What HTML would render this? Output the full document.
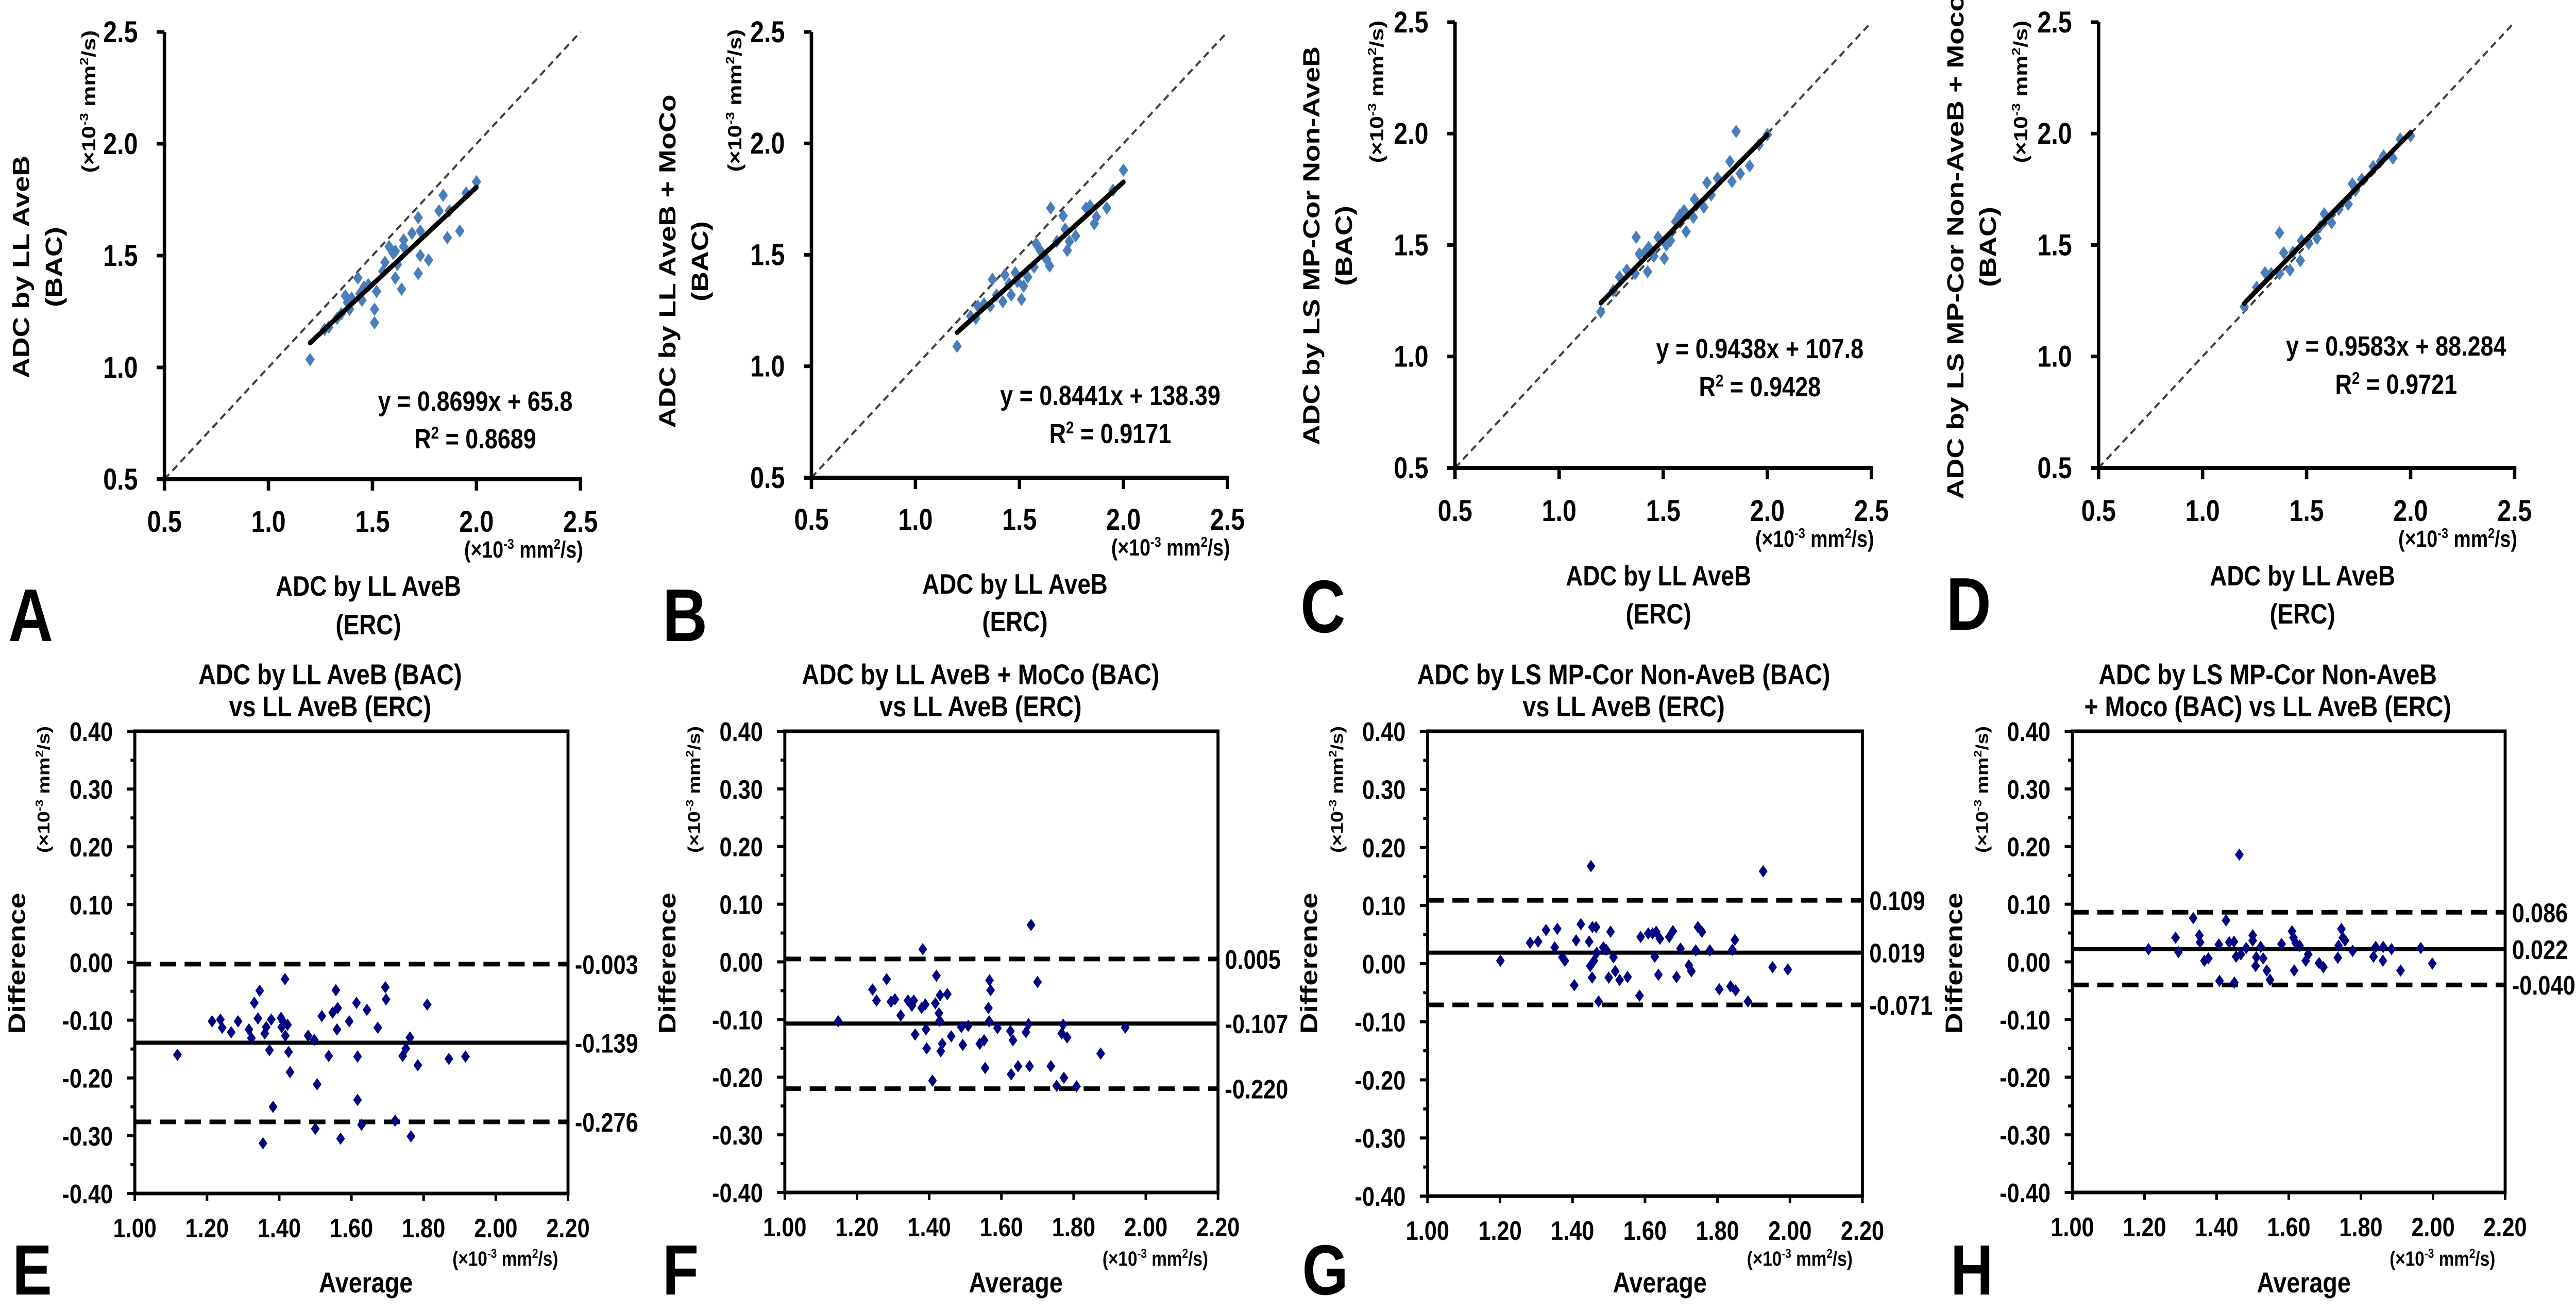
<!DOCTYPE html>
<html><head><meta charset="utf-8">
<style>
html,body{margin:0;padding:0;background:#fff;overflow:hidden;}
svg{display:block;width:100vw;height:100vh;}
</style></head>
<body>
<svg id="fig" xmlns="http://www.w3.org/2000/svg" viewBox="0 0 6000 2544" preserveAspectRatio="none">
<rect width="6000" height="2544" fill="#fff"/>
</svg>
<script>
// ---------- Scatter data (x10^-3 mm2/s) ----------
const scatterAX=[1.20,1.27,1.29,1.33,1.35,1.37,1.38,1.39,1.40,1.43,1.44,1.45,1.46,1.48,1.51,1.51,1.52,1.55,1.56,1.58,1.60,1.61,1.61,1.62,1.64,1.65,1.65,1.69,1.72,1.72,1.73,1.73,1.77,1.82,1.84,1.86,1.87,1.92,1.95,2.00];
const scatterAY=[1.035,1.17,1.18,1.22,1.24,1.32,1.29,1.26,1.31,1.40,1.33,1.30,1.36,1.37,1.26,1.20,1.34,1.43,1.47,1.54,1.51,1.52,1.40,1.46,1.35,1.57,1.54,1.60,1.67,1.42,1.61,1.50,1.48,1.70,1.77,1.58,1.70,1.61,1.78,1.83];
const fitA=[0.8699,0.0658];
const r2A=["y = 0.8699x + 65.8","0.8689"];

const scatterBX=[1.20,1.265,1.29,1.30,1.33,1.36,1.37,1.39,1.42,1.43,1.45,1.46,1.48,1.49,1.51,1.52,1.54,1.57,1.58,1.60,1.63,1.645,1.65,1.68,1.71,1.72,1.73,1.74,1.77,1.82,1.84,1.86,1.87,1.92,1.95,2.00];
const scatterBY=[1.09,1.225,1.215,1.27,1.28,1.27,1.39,1.32,1.29,1.41,1.37,1.32,1.42,1.38,1.30,1.36,1.40,1.445,1.55,1.52,1.48,1.45,1.71,1.56,1.675,1.615,1.52,1.56,1.585,1.71,1.72,1.64,1.67,1.71,1.79,1.88];
const fitB=[0.8441,0.13839];
const r2B=["y = 0.8441x + 138.39","0.9171"];

const scatterCX=[1.20,1.26,1.29,1.325,1.365,1.37,1.385,1.41,1.425,1.43,1.455,1.475,1.505,1.515,1.535,1.56,1.58,1.60,1.61,1.645,1.65,1.695,1.71,1.73,1.76,1.82,1.83,1.85,1.87,1.915,1.96,2.00];
const scatterCY=[1.20,1.295,1.357,1.388,1.372,1.535,1.46,1.465,1.38,1.49,1.45,1.535,1.44,1.50,1.52,1.605,1.635,1.655,1.56,1.625,1.705,1.67,1.78,1.725,1.80,1.875,1.785,2.01,1.82,1.855,1.95,1.995];
const fitC=[0.9438,0.1078];
const r2C=["y = 0.9438x + 107.8","0.9428"];

const scatterDX=[1.20,1.26,1.30,1.33,1.37,1.37,1.39,1.42,1.435,1.47,1.475,1.51,1.55,1.565,1.585,1.62,1.655,1.70,1.72,1.735,1.765,1.82,1.855,1.87,1.915,1.95,2.00];
const scatterDY=[1.223,1.31,1.376,1.372,1.555,1.372,1.465,1.388,1.468,1.43,1.52,1.507,1.53,1.583,1.64,1.60,1.66,1.683,1.775,1.745,1.795,1.852,1.875,1.90,1.89,1.976,1.99];
const fitD=[0.9583,0.088284];
const r2D=["y = 0.9583x + 88.284","0.9721"];

// ---------- Bland-Altman data ----------
const baEX=[1.118,1.214,1.237,1.242,1.267,1.286,1.316,1.323,1.331,1.341,1.346,1.36,1.364,1.373,1.378,1.383,1.355,1.405,1.407,1.412,1.416,1.417,1.423,1.426,1.43,1.48,1.497,1.5,1.505,1.518,1.537,1.548,1.557,1.562,1.56,1.57,1.594,1.614,1.617,1.617,1.628,1.643,1.673,1.694,1.696,1.721,1.742,1.751,1.762,1.765,1.784,1.81,1.87,1.916];
const baEY=[-0.160,-0.102,-0.099,-0.113,-0.121,-0.102,-0.116,-0.131,-0.070,-0.097,-0.049,-0.123,-0.112,-0.152,-0.099,-0.250,-0.313,-0.096,-0.112,-0.104,-0.029,-0.127,-0.108,-0.155,-0.190,-0.127,-0.134,-0.288,-0.211,-0.093,-0.162,-0.087,-0.048,-0.079,-0.116,-0.305,-0.102,-0.070,-0.238,-0.163,-0.281,-0.082,-0.113,-0.043,-0.064,-0.274,-0.162,-0.149,-0.130,-0.301,-0.178,-0.073,-0.167,-0.163];
const baELines=[-0.003,-0.139,-0.276];
const baELabels=["-0.003","-0.139","-0.276"];

const baFX=[1.148,1.243,1.254,1.282,1.294,1.305,1.321,1.341,1.352,1.357,1.361,1.379,1.382,1.389,1.391,1.393,1.409,1.417,1.42,1.427,1.429,1.43,1.432,1.436,1.45,1.461,1.493,1.489,1.508,1.54,1.552,1.555,1.564,1.567,1.57,1.566,1.589,1.625,1.627,1.632,1.646,1.668,1.675,1.678,1.682,1.7,1.737,1.753,1.767,1.771,1.773,1.782,1.808,1.875,1.943];
const baFY=[-0.103,-0.048,-0.067,-0.030,-0.069,-0.065,-0.093,-0.067,-0.076,-0.067,-0.126,-0.080,0.022,-0.074,-0.117,-0.150,-0.206,-0.072,-0.024,-0.089,-0.102,-0.058,-0.155,-0.142,-0.056,-0.129,-0.144,-0.113,-0.111,-0.142,-0.136,-0.184,-0.080,-0.032,-0.049,-0.103,-0.115,-0.120,-0.195,-0.136,-0.181,-0.122,-0.108,-0.181,0.064,-0.035,-0.181,-0.215,-0.124,-0.109,-0.201,-0.131,-0.216,-0.159,-0.114];
const baFLines=[0.005,-0.107,-0.220];
const baFLabels=["0.005","-0.107","-0.220"];

const baGX=[1.201,1.283,1.305,1.327,1.351,1.358,1.372,1.379,1.405,1.41,1.423,1.446,1.449,1.451,1.454,1.455,1.459,1.465,1.467,1.472,1.485,1.493,1.5,1.505,1.513,1.518,1.53,1.552,1.585,1.588,1.609,1.621,1.627,1.631,1.637,1.641,1.667,1.677,1.687,1.698,1.721,1.728,1.74,1.746,1.757,1.779,1.805,1.836,1.841,1.848,1.85,1.884,1.926,1.952,1.994];
const baGY=[0.005,0.036,0.038,0.058,0.028,0.060,0.011,0.005,-0.037,0.040,0.068,0.038,-0.004,0.168,-0.024,0.063,0.005,0.063,0.019,-0.065,0.028,0.024,-0.024,0.055,0.011,-0.013,-0.028,-0.023,-0.055,0.046,0.052,0.052,0.012,0.055,-0.019,0.043,0.046,0.056,-0.023,0.026,-0.003,-0.013,0.023,0.063,0.055,0.023,-0.044,-0.039,0.024,0.041,-0.046,-0.065,0.159,-0.006,-0.010];
const baGLines=[0.109,0.019,-0.071];
const baGLabels=["0.109","0.019","-0.071"];

const baHX=[1.211,1.286,1.294,1.335,1.352,1.354,1.366,1.377,1.406,1.408,1.426,1.435,1.448,1.449,1.454,1.463,1.467,1.482,1.5,1.5,1.508,1.51,1.522,1.529,1.539,1.548,1.58,1.609,1.613,1.615,1.619,1.63,1.647,1.654,1.684,1.696,1.736,1.738,1.746,1.75,1.756,1.777,1.835,1.841,1.861,1.862,1.885,1.91,1.966,1.998];
const baHY=[0.022,0.042,0.017,0.076,0.046,0.034,0.002,0.006,0.030,-0.033,0.072,0.034,0.035,-0.036,0.009,0.186,0.013,0.024,0.046,0.037,-0.007,0.008,0.026,0.006,-0.015,-0.031,0.031,0.053,0.042,-0.015,0.033,0.028,0.002,0.013,-0.002,-0.009,0.007,0.028,0.057,0.042,0.037,0.019,0.009,0.026,0.002,0.026,0.022,-0.015,0.024,-0.003];
const baHLines=[0.086,0.022,-0.040];
const baHLabels=["0.086","0.022","-0.040"];

// tick labels
const scatterTicks=[0.5,1.0,1.5,2.0,2.5];
const scatterTickLabels=["0.5","1.0","1.5","2.0","2.5"];
const baYTicks=[0.4,0.3,0.2,0.1,0,-0.1,-0.2,-0.3,-0.4];
const baYTickLabels=["0.40","0.30","0.20","0.10","0.00","-0.10","-0.20","-0.30","-0.40"];
const baXTicks=[1.0,1.2,1.4,1.6,1.8,2.0,2.2];
const baXTickLabels=["1.00","1.20","1.40","1.60","1.80","2.00","2.20"];

// ---------- rendering ----------
const NS="http://www.w3.org/2000/svg";
const svg=document.getElementById('fig');
const FN="'Liberation Sans',Arial,sans-serif";
const FA="'Liberation Sans',Arial,sans-serif";
function mk(tag,attrs,parent){const e=document.createElementNS(NS,tag);for(const k in attrs)e.setAttribute(k,attrs[k]);(parent||svg).appendChild(e);return e;}
function txt(parent,x,y,s,size,font,anchor){const t=mk('text',{x:x,y:y,'font-size':size,'font-family':font,'font-weight':'bold','text-anchor':anchor||'middle',fill:'#000'},parent);t.textContent=s;return t;}
function unitHTML(sz){const s=Math.round(sz*0.62),d=Math.round(sz*0.38);return '(×10<tspan dy="-'+d+'" font-size="'+s+'">-3</tspan><tspan dy="'+d+'"> mm</tspan><tspan dy="-'+d+'" font-size="'+s+'">2</tspan><tspan dy="'+d+'">/s)</tspan>';}

const scatterPanels=[
 {id:'a',xs:scatterAX,ys:scatterAY,fit:fitA,eq:r2A,ax:383,right:1352,top:62,bottom:930,xlb:1032,ub:1082,t1:1156,t2:1231,ttl:'ADC by LL AveB',tx:858,eqx:1107,eqb:797,r2b:870,letter:'A',lx:19,lb:1244,ytx:48,ybx:124,yc:518,ux:206,uy:197},
 {id:'b',xs:scatterBX,ys:scatterBY,fit:fitB,eq:r2B,ax:1890,right:2859,top:62,bottom:927,xlb:1028,ub:1078,t1:1152,t2:1225,ttl:'ADC by LL AveB + MoCo',tx:2364,eqx:2586,eqb:786,r2b:860,letter:'B',lx:1543,lb:1244,ytx:1553,ybx:1629,yc:507,ux:1711,uy:195},
 {id:'c',xs:scatterCX,ys:scatterCY,fit:fitC,eq:r2C,ax:3389,right:4359,top:43,bottom:908,xlb:1011,ub:1061,t1:1136,t2:1210,ttl:'ADC by LS MP-Cor Non-AveB',tx:3863,eqx:4099,eqb:695,r2b:769,letter:'C',lx:3029,lb:1227,ytx:3053,ybx:3129,yc:477,ux:3206,uy:178},
 {id:'d',xs:scatterDX,ys:scatterDY,fit:fitD,eq:r2D,ax:4888,right:5857,top:43,bottom:908,xlb:1011,ub:1061,t1:1136,t2:1210,ttl:'ADC by LS MP-Cor Non-AveB + Moco',tx:5363,eqx:5581,eqb:690,r2b:764,letter:'D',lx:4533,lb:1222,ytx:4553,ybx:4629,yc:479,ux:4706,uy:178}
];

scatterPanels.forEach(p=>{
  const g=mk('g',{});
  
  
  const X=v=>p.ax+(v-0.5)/2*(p.right-p.ax);
  const Y=v=>p.bottom-(v-0.5)/2*(p.bottom-p.top);
  const idl=mk('line',{x1:X(0.5),y1:Y(0.5),x2:X(2.5),y2:Y(2.5),stroke:'#404040','stroke-width':4.5,'stroke-dasharray':'15 10'},g);
  
  
  p.xs.forEach((xv,i)=>{
    const cx=X(xv),cy=Y(p.ys[i]),r=13;
    const d=mk('polygon',{points:`${cx},${cy-r} ${cx+r*0.85},${cy} ${cx},${cy+r} ${cx-r*0.85},${cy}`,fill:'#4a7ebb'},g);
    
    
  });
  const x0=Math.min(...p.xs),x1=Math.max(...p.xs);
  const fl=mk('line',{x1:X(x0),y1:Y(p.fit[0]*x0+p.fit[1]),x2:X(x1),y2:Y(p.fit[0]*x1+p.fit[1]),stroke:'#000','stroke-width':10,'stroke-linecap':'round'},g);
  
  
  const ya=mk('line',{x1:p.ax,y1:p.top,x2:p.ax,y2:p.bottom+4,stroke:'#000','stroke-width':8},g);
  
  
  const xa=mk('line',{x1:p.ax-18,y1:p.bottom,x2:p.right+4,y2:p.bottom,stroke:'#000','stroke-width':8},g);
  
  
  scatterTicks.forEach((v,i)=>{
    mk('line',{x1:p.ax-18,y1:Y(v),x2:p.ax,y2:Y(v),stroke:'#000','stroke-width':7},g);
    mk('line',{x1:X(v),y1:p.bottom,x2:X(v),y2:p.bottom+22,stroke:'#000','stroke-width':8},g);
    const yl=txt(g,p.ax-62,Y(v)+20,scatterTickLabels[i],58,FN,'end');
    
    
    const xl=txt(g,X(v),p.xlb,scatterTickLabels[i],58,FN,'middle');
    
    
  });
  const u=txt(g,p.right+6,p.ub,'',45,FN,'end'); u.innerHTML=unitHTML(45);
  
  
  const t1=txt(g,p.tx,p.t1,'ADC by LL AveB',55,FN);
  
  
  const t2=txt(g,p.tx,p.t2,'(ERC)',55,FN);
  
  
  const e1=txt(g,p.eqx,p.eqb,p.eq[0],54,FN);
  
  
  const e2=txt(g,p.eqx,p.r2b,'',54,FN); e2.innerHTML='R<tspan dy="-19" font-size="33">2</tspan><tspan dy="19"> = '+p.eq[1]+'</tspan>';
  
  
  const yt=txt(g,p.ytx+20,p.yc,p.ttl,55,FN); yt.setAttribute('transform',`rotate(-90 ${p.ytx+20} ${p.yc})`);
  
  
  const yb=txt(g,p.ybx+20,p.yc,'(BAC)',55,FN); yb.setAttribute('transform',`rotate(-90 ${p.ybx+20} ${p.yc})`);
  
  
  const yu=txt(g,p.ux+16,p.uy,'',45,FN); yu.innerHTML=unitHTML(45); yu.setAttribute('transform',`rotate(-90 ${p.ux+16} ${p.uy})`);
  
  
  const L=txt(g,p.lx,p.lb,p.letter,145,FA,'start');
  
  
});

const baPanels=[
 {id:'e',xs:baEX,ys:baEY,lines:baELines,labels:baELabels,l:314,r:1323,t:1419,b:2316,title:['ADC by LL AveB (BAC)','vs LL AveB (ERC)'],tc:769,ac:852,letter:'E',lx:29,dx:38,ux:100},
 {id:'f',xs:baFX,ys:baFY,lines:baFLines,labels:baFLabels,l:1828,r:2837,t:1419,b:2314,title:['ADC by LL AveB + MoCo (BAC)','vs LL AveB (ERC)'],tc:2284,ac:2366,letter:'F',lx:1543,dx:1553,ux:1615},
 {id:'g',xs:baGX,ys:baGY,lines:baGLines,labels:baGLabels,l:3325,r:4338,t:1419,b:2321,title:['ADC by LS MP-Cor Non-AveB (BAC)','vs LL AveB (ERC)'],tc:3782,ac:3866,letter:'G',lx:3033,dx:3048,ux:3113},
 {id:'h',xs:baHX,ys:baHY,lines:baHLines,labels:baHLabels,l:4827,r:5835,t:1419,b:2314,title:['ADC by LS MP-Cor Non-AveB','+ Moco (BAC) vs LL AveB (ERC)'],tc:5282,ac:5366,letter:'H',lx:4543,dx:4550,ux:4615}
];

baPanels.forEach(p=>{
  const g=mk('g',{});
  
  
  const X=v=>p.l+(v-1.0)/1.2*(p.r-p.l);
  const Y=v=>p.b-(v+0.4)/0.8*(p.b-p.t);
  const fr=mk('rect',{x:p.l,y:p.t,width:p.r-p.l,height:p.b-p.t,fill:'none',stroke:'#000','stroke-width':7},g);
  
  
  baYTicks.forEach((v,i)=>{
    mk('line',{x1:p.l-18,y1:Y(v),x2:p.l,y2:Y(v),stroke:'#000','stroke-width':6},g);
    if(i<baYTicks.length-1) mk('line',{x1:p.l-10,y1:Y(v-0.05),x2:p.l,y2:Y(v-0.05),stroke:'#000','stroke-width':6},g);
    const yl=txt(g,p.l-51,Y(v)+19,baYTickLabels[i],52,FA,'end');
    
    
  });
  baXTicks.forEach((v,i)=>{
    mk('line',{x1:X(v),y1:p.b,x2:X(v),y2:p.b+14,stroke:'#000','stroke-width':6},g);
    const xl=txt(g,X(v),p.b+85,baXTickLabels[i],52,FA,'middle');
    
    
  });
  p.lines.forEach((v,i)=>{
    const ln=mk('line',{x1:p.l,y1:Y(v),x2:p.r,y2:Y(v),stroke:'#000','stroke-width':i===1?8:9,'stroke-dasharray':i===1?'none':'38 20'},g);
    
    
    const lb=txt(g,p.r+16,Y(v)+19,p.labels[i],52,FA,'start');
    
    
  });
  p.xs.forEach((xv,i)=>{
    const cx=X(xv),cy=Y(p.ys[i]),r=12;
    const d=mk('polygon',{points:`${cx},${cy-r} ${cx+r*0.85},${cy} ${cx},${cy+r} ${cx-r*0.85},${cy}`,fill:'#000080'},g);
    
    
  });
  const t1=txt(g,p.tc,1328,p.title[0],56,FA);
  
  
  const t2=txt(g,p.tc,1390,p.title[1],56,FA);
  
  
  const u=txt(g,p.r-23,2456,'',40,FA,'end'); u.innerHTML=unitHTML(40);
  
  
  const av=txt(g,p.ac,2508,'Average',56,FA);
  
  
  const df=txt(g,p.dx+20,1869,'Difference',56,FA); df.setAttribute('transform',`rotate(-90 ${p.dx+20} 1869)`);
  
  
  const yu=txt(g,p.ux+15,1532,'',40,FA); yu.innerHTML=unitHTML(40); yu.setAttribute('transform',`rotate(-90 ${p.ux+15} 1532)`);
  
  
  const L=txt(g,p.lx,2512,p.letter,138,FA,'start');
  
  
});
</script>
</body></html>
